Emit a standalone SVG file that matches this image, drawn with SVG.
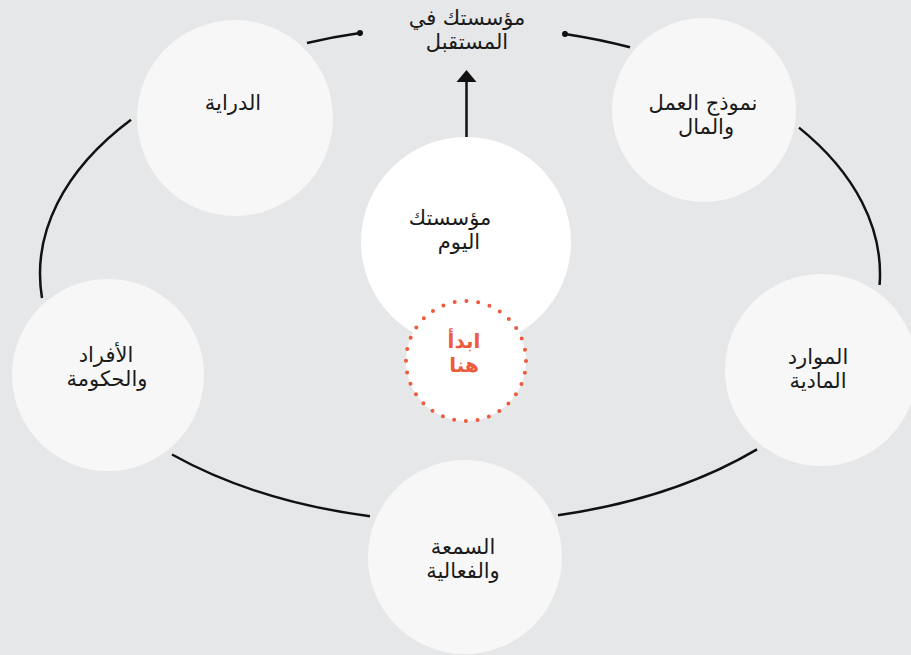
<svg xmlns="http://www.w3.org/2000/svg" width="911" height="655" viewBox="0 0 911 655">
<style>
.bg{fill:#e6e7e9}
.node{fill:#f7f7f7}
.lbl{font-family:"DejaVu Sans","Noto Sans",sans-serif;font-size:21px;fill:#1a1a1a;text-anchor:middle;direction:rtl}
.start{font-family:"DejaVu Sans","Noto Sans",sans-serif;font-size:20px;font-weight:bold;fill:#ee5a3c;text-anchor:middle;direction:rtl}
.arc{fill:none;stroke:#111;stroke-width:2.5}
</style>
<defs>
<marker id="dot" viewBox="0 0 6 6" refX="3" refY="3" markerWidth="6" markerHeight="6" markerUnits="userSpaceOnUse"><circle cx="3" cy="3" r="3" fill="#111"/></marker>
</defs>
<rect class="bg" x="0" y="0" width="911" height="655"/>
<g id="connectors">
<path class="arc" d="M307 43 A420 248 0 0 1 360 33.1" marker-end="url(#dot)"/>
<path class="arc" d="M565 33.9 A420 248 0 0 1 630 47.2" marker-start="url(#dot)"/>
<path class="arc" d="M42 298 A420 248 0 0 1 131 119.8"/>
<path class="arc" d="M799 127.6 A420 248 0 0 1 879.6 285"/>
<path class="arc" d="M370 516.2 A420 248 0 0 1 172 454.5"/>
<path class="arc" d="M757 449.4 A420 248 0 0 1 558 515.2"/>
<line x1="466.5" y1="137" x2="466.5" y2="80" stroke="#111" stroke-width="2.5"/>
<polygon points="456.5,82 476.5,82 466.5,70" fill="#111"/>
</g>
<g id="future">
<text class="lbl" x="467" y="25">مؤسستك في</text>
<text class="lbl" x="467" y="49">المستقبل</text>
</g>
<g id="awareness">
<circle class="node" cx="235" cy="118" r="98"/>
<text class="lbl" x="233" y="110">الدراية</text>
</g>
<g id="business-model">
<circle class="node" cx="704" cy="110" r="92"/>
<text class="lbl" x="703" y="110">نموذج العمل</text>
<text class="lbl" x="706" y="134">والمال</text>
</g>
<g id="today">
<circle cx="466" cy="242" r="105" fill="#ffffff"/>
<text class="lbl" x="450" y="225">مؤسستك</text>
<text class="lbl" x="459" y="249">اليوم</text>
</g>
<g id="start-here">
<circle cx="466" cy="361" r="60" fill="#ffffff" stroke="#ee5a3c" stroke-width="4" stroke-linecap="round" stroke-dasharray="0 11.78"/>
<text class="start" x="464" y="348">ابدأ</text>
<text class="start" x="464" y="372">هنا</text>
</g>
<g id="people">
<circle class="node" cx="108" cy="375" r="96"/>
<text class="lbl" x="106" y="362">الأفراد</text>
<text class="lbl" x="107" y="386">والحكومة</text>
</g>
<g id="physical-resources">
<circle class="node" cx="821" cy="370" r="96"/>
<text class="lbl" x="818" y="364">الموارد</text>
<text class="lbl" x="818" y="388">المادية</text>
</g>
<g id="reputation">
<circle class="node" cx="465" cy="557" r="97"/>
<text class="lbl" x="463" y="554">السمعة</text>
<text class="lbl" x="463" y="578">والفعالية</text>
</g>
</svg>
